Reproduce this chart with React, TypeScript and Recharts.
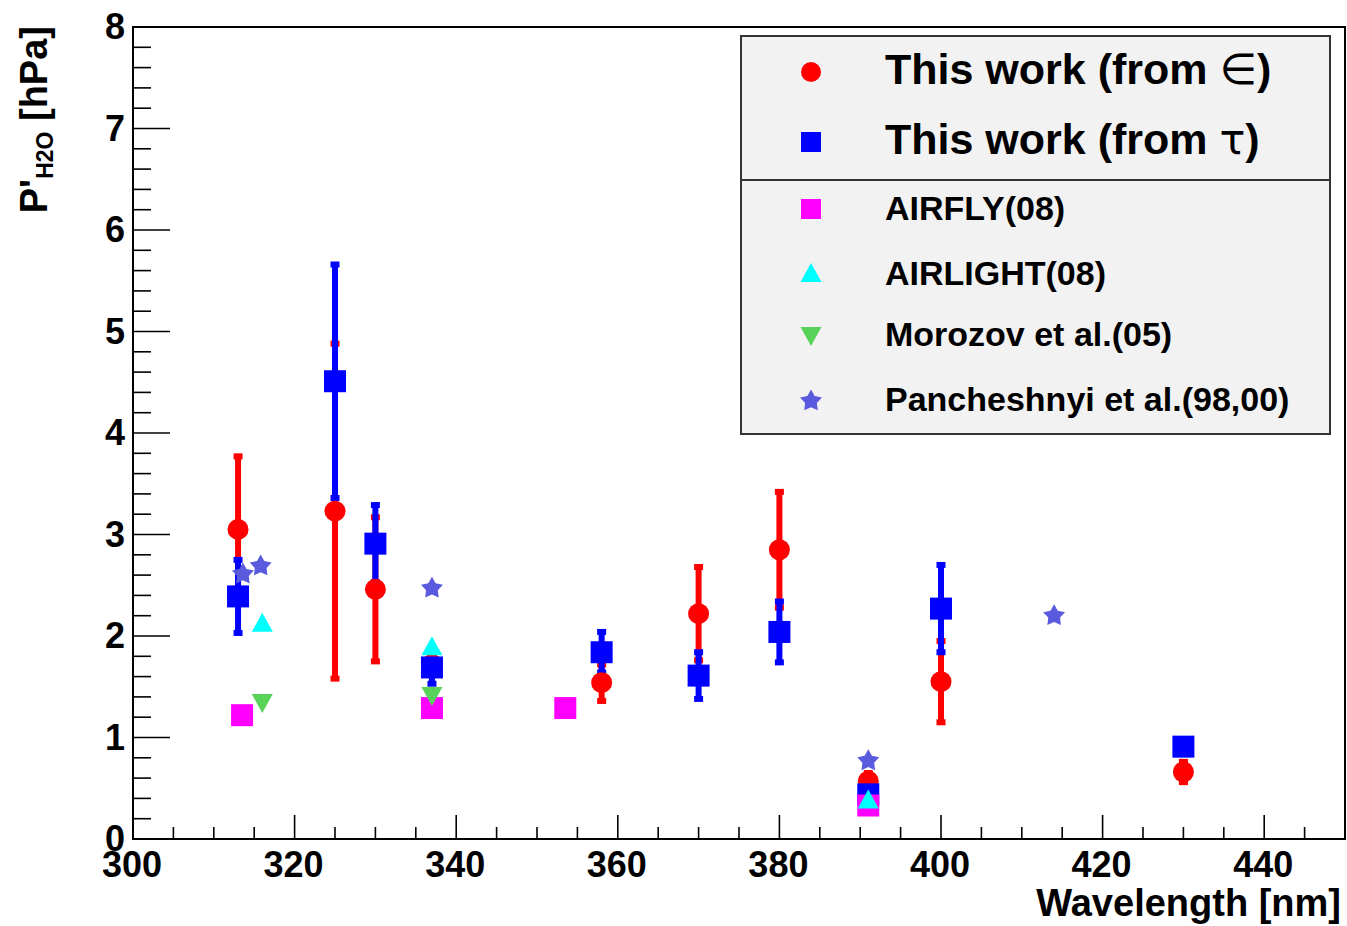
import React from "react";
import {
  ScatterChart,
  Scatter,
  XAxis,
  YAxis,
  ErrorBar,
  ReferenceArea,
  Legend,
} from "recharts";

// ---- This work (from epsilon) ----
const epsWavelength = [313, 325, 330, 337, 358, 370, 380, 391, 400, 430];
const epsPressure = [3.05, 3.23, 2.46, 1.72, 1.54, 2.22, 2.85, 0.57, 1.55, 0.66];
const epsError = [0.72, 1.65, 0.71, 0.1, 0.18, 0.46, 0.57, 0.08, 0.4, 0.1];

// ---- This work (from tau) ----
const tauWavelength = [313, 325, 330, 337, 358, 370, 380, 391, 400, 430];
const tauPressure = [2.39, 4.51, 2.91, 1.69, 1.84, 1.61, 2.04, 0.44, 2.27, 0.91];
const tauError = [0.36, 1.15, 0.38, 0.16, 0.2, 0.23, 0.3, 0.05, 0.43, 0.03];

// ---- Previous measurements ----
const airflyWavelength = [313.5, 337, 353.5, 391];
const airflyPressure = [1.22, 1.29, 1.29, 0.33];

const airlightWavelength = [316, 337, 391];
const airlightPressure = [2.13, 1.9, 0.39];

const morozovWavelength = [316, 337];
const morozovPressure = [1.34, 1.41];

const panchWavelength = [313.6, 315.8, 337, 391, 414];
const panchPressure = [2.61, 2.69, 2.47, 0.77, 2.2];

const seriesNames = [
  "This work (from ",
  "This work (from ",
  "AIRFLY(08)",
  "AIRLIGHT(08)",
  "Morozov et al.(05)",
  "Pancheshnyi et al.(98,00)",
];
const seriesSymbols = ["\u2208", "\u03C4"];

// ---- Axis ticks ----
const xMajorTicks = [300, 320, 340, 360, 380, 400, 420, 440];
const xMinorStep = 5;
const yMajorTicks = [0, 1, 2, 3, 4, 5, 6, 7, 8];
const yMinorStep = 0.2;

const xTicks = Array.from({ length: 30 }, (_, i) => xMajorTicks[0] + xMinorStep * i);
const yTicks = Array.from(
  { length: (yMajorTicks[yMajorTicks.length - 1] / yMinorStep) + 1 },
  (_, i) => Math.round(i * yMinorStep * 10) / 10
);

const zip = (xs: number[], ys: number[], es?: number[]) =>
  xs.map((x, i) => ({ x, y: ys[i], err: es ? es[i] : 0 }));

const epsData = zip(epsWavelength, epsPressure, epsError);
const tauData = zip(tauWavelength, tauPressure, tauError);
const airflyData = zip(airflyWavelength, airflyPressure);
const airlightData = zip(airlightWavelength, airlightPressure);
const morozovData = zip(morozovWavelength, morozovPressure);
const panchData = zip(panchWavelength, panchPressure);

const RED = "#ff0000";
const BLUE = "#0000ff";
const MAGENTA = "#ff00ff";
const CYAN = "#00ffff";
const GREEN = "#58d258";
const SLATE = "#5a5ade";

const FONT = "'Liberation Sans', Arial, Helvetica, sans-serif";

// ---- Marker shapes ----
const circleAt = (cx: number, cy: number, fill: string, r = 10.5) => (
  <circle cx={cx} cy={cy} r={r} fill={fill} />
);
const squareAt = (cx: number, cy: number, fill: string, s = 22) => (
  <rect x={cx - s / 2} y={cy - s / 2} width={s} height={s} fill={fill} />
);
const triUpAt = (cx: number, cy: number, fill: string) => (
  <polygon points={`${cx},${cy - 10} ${cx - 10.5},${cy + 9} ${cx + 10.5},${cy + 9}`} fill={fill} />
);
const triDownAt = (cx: number, cy: number, fill: string) => (
  <polygon points={`${cx},${cy + 10} ${cx - 10.5},${cy - 9} ${cx + 10.5},${cy - 9}`} fill={fill} />
);
const starAt = (cx: number, cy: number, fill: string) => {
  const pts: string[] = [];
  for (let k = 0; k < 10; k++) {
    const r = k % 2 === 0 ? 11.5 : 6.2;
    const a = -Math.PI / 2 + (k * Math.PI) / 5;
    pts.push(`${cx + r * Math.cos(a)},${cy + r * Math.sin(a)}`);
  }
  return <polygon points={pts.join(" ")} fill={fill} />;
};

const EmptyShape = () => <g />;
const RedCircle = (p: any) => circleAt(p.cx, p.cy, RED);
const BlueSquare = (p: any) => squareAt(p.cx, p.cy, BLUE);
const MagentaSquare = (p: any) => squareAt(p.cx, p.cy, MAGENTA);
const CyanTriangle = (p: any) => triUpAt(p.cx, p.cy, CYAN);
const GreenTriangle = (p: any) => triDownAt(p.cx, p.cy, GREEN);
const SlateStar = (p: any) => starAt(p.cx, p.cy, SLATE);

// ---- Axis ticks pointing into the frame ----
const isMultiple = (v: number, step: number) =>
  Math.abs(v / step - Math.round(v / step)) < 1e-6;

const XTick = (props: any) => {
  const { x, y, payload } = props;
  const v = payload.value as number;
  const major = isMultiple(v, 20);
  return (
    <g>
      <line x1={x} y1={y} x2={x} y2={y - (major ? 24 : 12)} stroke="#000" strokeWidth={1.6} />
      {major && (
        <text
          x={x - 1}
          y={y + 38}
          textAnchor="middle"
          fontFamily={FONT}
          fontWeight="bold"
          fontSize={36}
          fill="#000"
        >
          {v}
        </text>
      )}
    </g>
  );
};

const YTick = (props: any) => {
  const { x, y, payload } = props;
  const v = payload.value as number;
  const major = isMultiple(v, 1);
  return (
    <g>
      <line x1={x} y1={y} x2={x + (major ? 37 : 18)} y2={y} stroke="#000" strokeWidth={1.6} />
      {major && (
        <text
          x={x - 8}
          y={y + 12}
          textAnchor="end"
          fontFamily={FONT}
          fontWeight="bold"
          fontSize={36}
          fill="#000"
        >
          {Math.round(v)}
        </text>
      )}
    </g>
  );
};

const XTitle = () => (
  <text x={1341} y={916} textAnchor="end" fontFamily={FONT} fontWeight="bold" fontSize={38} fill="#000">
    Wavelength [nm]
  </text>
);

const YTitle = () => (
  <text
    transform="translate(47,26) rotate(-90)"
    textAnchor="end"
    fontFamily={FONT}
    fontWeight="bold"
    fontSize={38}
    fill="#000"
  >
    P'
    <tspan fontSize={23} dy={6}>
      H2O
    </tspan>
    <tspan fontSize={38} dy={-6}>
      {" [hPa]"}
    </tspan>
  </text>
);

// ---- Legend box ----
const legendMarkers = [
  (cx: number, cy: number) => circleAt(cx, cy, RED, 10),
  (cx: number, cy: number) => squareAt(cx, cy, BLUE, 20),
  (cx: number, cy: number) => squareAt(cx, cy, MAGENTA, 20),
  (cx: number, cy: number) => triUpAt(cx, cy, CYAN),
  (cx: number, cy: number) => triDownAt(cx, cy, GREEN),
  (cx: number, cy: number) => starAt(cx, cy, SLATE),
];
const legendMarkerY = [37, 107, 174, 238, 301, 366];
const legendBaseline = [49, 119, 185, 250, 311, 376];

const LegendBox = () => (
  <svg width={592} height={402} style={{ display: "block" }}>
    <rect x={1} y={1} width={589} height={398} fill="#f2f2f2" stroke="#333" strokeWidth={2} />
    <line x1={1} y1={145} x2={590} y2={145} stroke="#333" strokeWidth={2} />
    {seriesNames.map((name, i) => (
      <g key={i}>
        {legendMarkers[i](71, legendMarkerY[i])}
        <text
          x={145}
          y={legendBaseline[i]}
          fontFamily={FONT}
          fontWeight="bold"
          fontSize={i < 2 ? 43 : 34}
          fill="#000"
        >
          {name}
          {i < 2 && (
            <tspan fontWeight="normal" fontFamily="'DejaVu Sans', sans-serif">
              {seriesSymbols[i]}
            </tspan>
          )}
          {i < 2 && ")"}
        </text>
      </g>
    ))}
  </svg>
);

export default function App() {
  return (
    <div style={{ position: "absolute", left: 0, top: 0, width: 1347, height: 926, background: "#fff" }}>
      <ScatterChart width={1347} height={926} margin={{ top: 27, right: 2, left: 0, bottom: 0 }}>
        <XAxis
          type="number"
          dataKey="x"
          domain={[300, 450]}
          allowDataOverflow
          ticks={xTicks}
          interval={0}
          tickSize={0}
          tickMargin={0}
          tickLine={false}
          tick={<XTick />}
          axisLine={{ stroke: "#000", strokeWidth: 2 }}
          height={87}
          label={<XTitle />}
        />
        <YAxis
          type="number"
          dataKey="y"
          domain={[0, 8]}
          allowDataOverflow
          ticks={yTicks}
          interval={0}
          tickSize={0}
          tickMargin={0}
          tickLine={false}
          tick={<YTick />}
          axisLine={{ stroke: "#000", strokeWidth: 2 }}
          width={133}
          label={<YTitle />}
        />
        <ReferenceArea x1={300} x2={450} y1={0} y2={8} fill="none" stroke="#000" strokeWidth={2} />

        {/* error bars first, markers on top */}
        <Scatter data={epsData} shape={<EmptyShape />} isAnimationActive={false}>
          <ErrorBar dataKey="err" direction="y" width={4.5} stroke={RED} strokeWidth={6} isAnimationActive={false} />
        </Scatter>
        <Scatter data={tauData} shape={<EmptyShape />} isAnimationActive={false}>
          <ErrorBar dataKey="err" direction="y" width={4.5} stroke={BLUE} strokeWidth={6} isAnimationActive={false} />
        </Scatter>
        <Scatter data={epsData} shape={RedCircle} isAnimationActive={false} />
        <Scatter data={tauData} shape={BlueSquare} isAnimationActive={false} />
        <Scatter data={airflyData} shape={MagentaSquare} isAnimationActive={false} />
        <Scatter data={airlightData} shape={CyanTriangle} isAnimationActive={false} />
        <Scatter data={morozovData} shape={GreenTriangle} isAnimationActive={false} />
        <Scatter data={panchData} shape={SlateStar} isAnimationActive={false} />

        <Legend
          content={<LegendBox />}
          layout="vertical"
          align="center"
          verticalAlign="middle"
          wrapperStyle={{ position: "absolute", left: 740, top: 35, width: 592, height: 402, margin: 0 }}
        />
      </ScatterChart>
    </div>
  );
}
